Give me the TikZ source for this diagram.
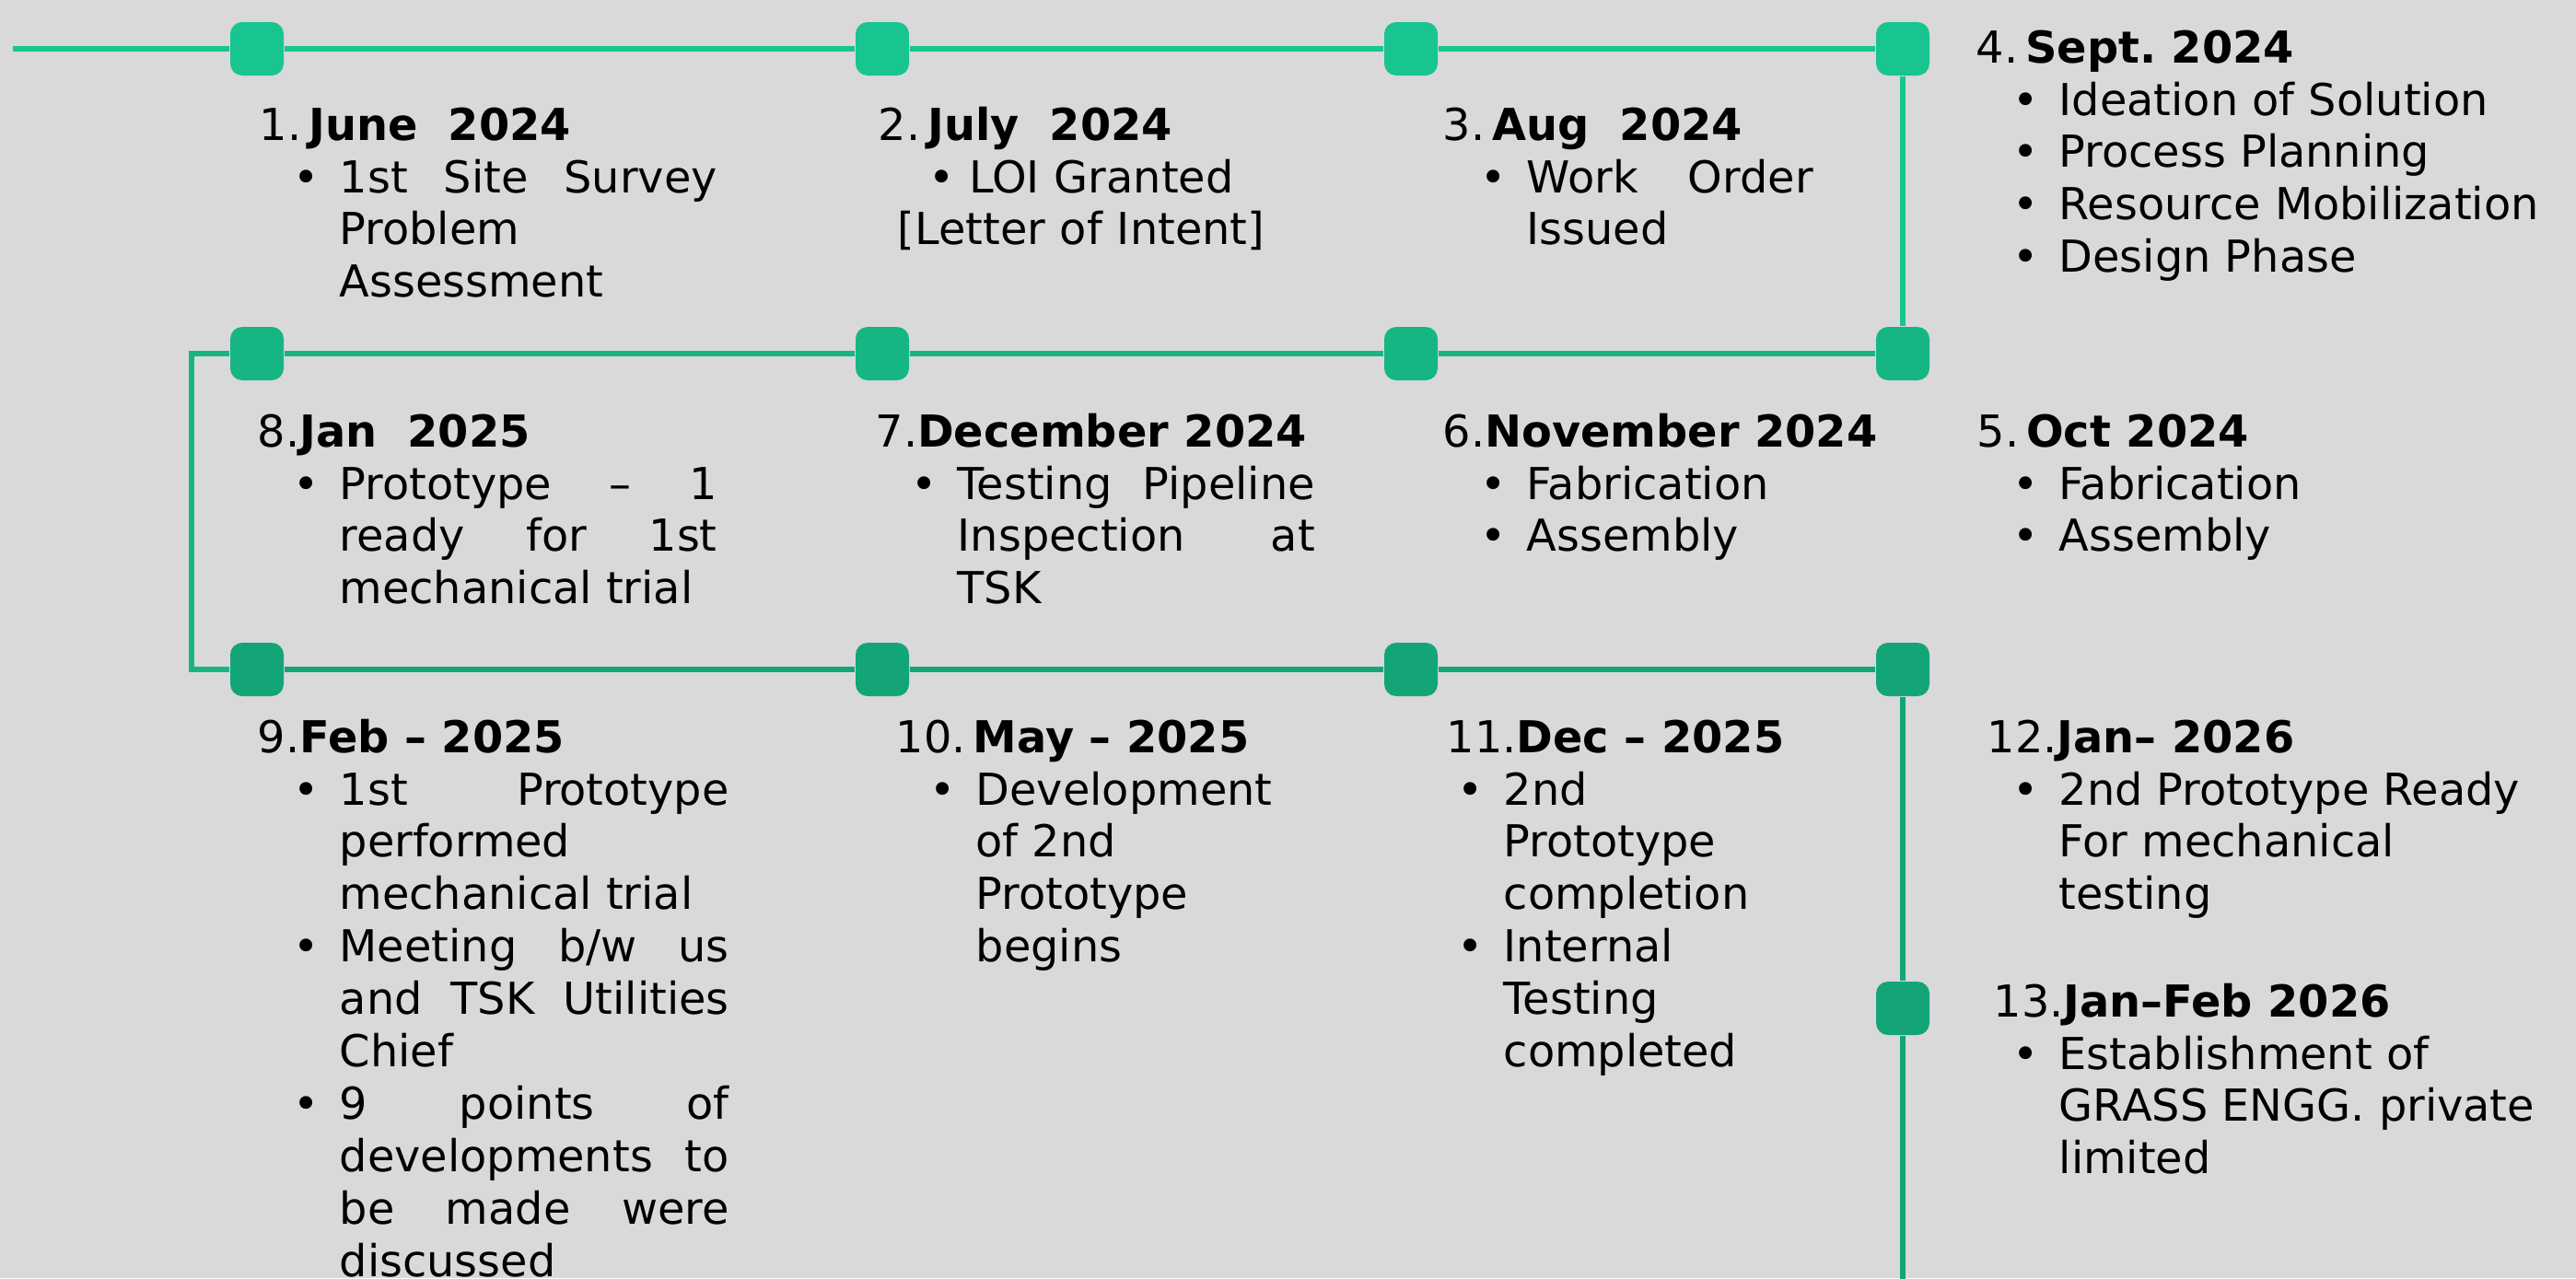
\documentclass[tikz,border=0pt]{standalone}
\usepackage{fontspec}
\setmainfont{DejaVu Sans}
\usepackage{xcolor}
\usepackage{tikz}

\definecolor{bggray}{HTML}{D9D9D9}
\definecolor{mintlight}{HTML}{18C48F}
\definecolor{mintmid}{HTML}{15B683}
\definecolor{mintdark}{HTML}{13A578}

\newcommand{\entryfont}{\fontsize{13.6pt}{16.2pt}\selectfont}
\newcommand{\bul}{\leavevmode\llap{\textbullet\hspace{0.22cm}}}
\frenchspacing

\tikzset{
  marker/.style={rectangle, fill=#1, rounded corners=1.3mm, minimum size=0.58cm, inner sep=0pt},
  link/.style={draw=#1, line width=1.5pt},
  title/.style={anchor=base west, inner sep=0pt, font=\entryfont},
  notes/.style={anchor=base west, inner sep=0pt, text width=#1, align=justify, font=\entryfont},
}

\begin{document}
\begin{tikzpicture}
    \useasboundingbox (0,0) rectangle (27.97,-13.88);
    \clip (0,0) rectangle (27.97,-13.88);
    \fill[bggray] (0,0) rectangle (27.97,-13.88);

    % markers
    \node[marker=mintlight] (june) at (2.79,-0.53) {};
    \node[marker=mintlight] (july) at (9.58,-0.53) {};
    \node[marker=mintlight] (aug) at (15.32,-0.53) {};
    \node[marker=mintlight] (sept) at (20.66,-0.53) {};
    \node[marker=mintmid] (oct) at (20.66,-3.84) {};
    \node[marker=mintmid] (nov) at (15.32,-3.84) {};
    \node[marker=mintmid] (dec) at (9.58,-3.84) {};
    \node[marker=mintmid] (jan) at (2.79,-3.84) {};
    \node[marker=mintdark] (feb) at (2.79,-7.27) {};
    \node[marker=mintdark] (may) at (9.58,-7.27) {};
    \node[marker=mintdark] (decb) at (15.32,-7.27) {};
    \node[marker=mintdark] (janb) at (20.66,-7.27) {};
    \node[marker=mintdark] (janfeb) at (20.66,-10.95) {};

    \coordinate (start) at (0.14,-0.53);
    \coordinate (turnup) at (2.08,-3.84);
    \coordinate (turndown) at (2.08,-7.27);
    \coordinate (tail) at (20.66,-13.95);

    % track
    \draw[link=mintlight] (start) -- (june) -- (july) -- (aug) -- (sept) -- (oct);
    \draw[link=mintmid] (oct) -- (nov) -- (dec) -- (jan) -- (turnup) -- (turndown) -- (feb);
    \draw[link=mintdark] (feb) -- (may) -- (decb) -- (janb) -- (janfeb) -- (tail);

    % row 1
    \node[title] (junetitle) at (2.81,-1.52) {1.\,\textbf{June\ \ 2024}};
    \node[notes=4.10cm] (junenotes) at (3.68,-2.09) {\bul 1st Site Survey\linebreak Problem\newline Assessment};
    \node[title] (julytitle) at (9.53,-1.52) {2.\,\textbf{July\ \ 2024}};
    \node[anchor=base, inner sep=0pt, text width=5cm, align=center, font=\entryfont] (julynotes) at (11.74,-2.09) {\textbullet\ LOI Granted\\ {[}Letter of Intent{]}};
    \node[title] (augtitle) at (15.66,-1.52) {3.\,\textbf{Aug\ \ 2024}};
    \node[notes=3.11cm] (augnotes) at (16.57,-2.09) {\bul Work Order\linebreak Issued};
    \node[title] (septtitle) at (21.45,-0.68) {4.\,\textbf{Sept. 2024}};
    \node[notes=5.5cm] (septnotes) at (22.35,-1.25) {\bul Ideation of Solution\newline \bul Process Planning\newline \bul Resource Mobilization\newline \bul Design Phase};

    % row 2
    \node[title] (octtitle) at (21.46,-4.85) {5.\,\textbf{Oct 2024}};
    \node[notes=5.5cm] (octnotes) at (22.35,-5.42) {\bul Fabrication\newline \bul Assembly};
    \node[title] (novtitle) at (15.66,-4.85) {6.\textbf{November 2024}};
    \node[notes=5.5cm] (novnotes) at (16.57,-5.42) {\bul Fabrication\newline \bul Assembly};
    \node[title] (dectitle) at (9.50,-4.85) {7.\textbf{December 2024}};
    \node[notes=3.88cm] (decnotes) at (10.39,-5.42) {\bul Testing Pipeline\linebreak Inspection at\linebreak TSK};
    \node[title] (jantitle) at (2.79,-4.85) {8.\textbf{Jan\ \ 2025}};
    \node[notes=4.10cm] (jannotes) at (3.68,-5.42) {\bul Prototype – 1\linebreak ready for 1st\linebreak mechanical trial};

    % row 3
    \node[title] (febtitle) at (2.79,-8.17) {9.\textbf{Feb – 2025}};
    \node[notes=4.23cm] (febnotes) at (3.68,-8.74) {\bul 1st Prototype\linebreak performed\newline mechanical trial\newline
        \bul Meeting b/w us\linebreak and TSK Utilities\linebreak Chief\newline
        \bul 9 points of\linebreak developments to\linebreak be made were\linebreak discussed};
    \node[title] (maytitle) at (9.72,-8.17) {10.\,\textbf{May – 2025}};
    \node[notes=5.5cm] (maynotes) at (10.59,-8.74) {\bul Development\newline of 2nd\newline Prototype\newline begins};
    \node[title] (decbtitle) at (15.70,-8.17) {11.\textbf{Dec – 2025}};
    \node[notes=5.5cm] (decbnotes) at (16.32,-8.74) {\bul 2nd\newline Prototype\newline completion\newline \bul Internal\newline Testing\newline completed};
    \node[title] (janbtitle) at (21.57,-8.17) {12.\textbf{Jan– 2026}};
    \node[notes=5.5cm] (janbnotes) at (22.35,-8.74) {\bul 2nd Prototype Ready\newline For mechanical\newline testing};
    \node[title] (janfebtitle) at (21.64,-11.04) {13.\textbf{Jan–Feb 2026}};
    \node[notes=5.5cm] (janfebnotes) at (22.35,-11.61) {\bul Establishment of\newline GRASS ENGG. private\newline limited};
\end{tikzpicture}
\end{document}
